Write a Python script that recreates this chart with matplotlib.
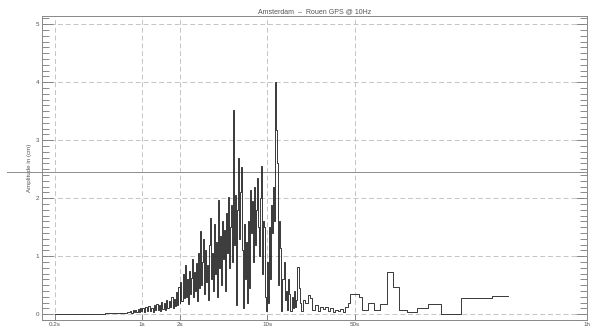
#!/usr/bin/env python3
import matplotlib
matplotlib.use("Agg")
import matplotlib.pyplot as plt
from matplotlib.ticker import FixedLocator, MultipleLocator, NullLocator

# Amplitude spectrum of the GPS track, period (s) vs amplitude (cm)
periods = [
    0.20, 0.30, 0.40, 0.50, 0.60, 0.70, 0.75, 0.80, 0.82, 0.84,
    0.86, 0.88, 0.90, 0.92, 0.94, 0.96, 0.98,
    1.00, 1.03, 1.06, 1.09, 1.12, 1.15, 1.18, 1.21, 1.24, 1.27,
    1.30, 1.33, 1.36, 1.39, 1.42, 1.45, 1.48, 1.51, 1.55, 1.59,
    1.63, 1.67, 1.71, 1.75, 1.79, 1.83, 1.87, 1.91, 1.95, 1.99,
    2.02, 2.06, 2.10, 2.14, 2.18, 2.21, 2.25, 2.29, 2.33, 2.37,
    2.41, 2.46, 2.51, 2.55, 2.60, 2.65, 2.70, 2.75, 2.80, 2.86,
    2.91, 2.96, 3.02, 3.07, 3.13, 3.19, 3.25, 3.31, 3.37, 3.43,
    3.50, 3.56, 3.63, 3.69, 3.76, 3.83, 3.90, 3.98, 4.06, 4.13,
    4.21, 4.29, 4.37, 4.45, 4.53, 4.61, 4.70, 4.79, 4.88, 4.97,
    5.06, 5.16, 5.25, 5.35, 5.45, 5.55, 5.65, 5.75, 5.86, 5.97,
    6.08, 6.19, 6.30, 6.42, 6.54, 6.66, 6.78, 6.90, 7.03, 7.16,
    7.31, 7.45, 7.59, 7.73, 7.88, 8.03, 8.17, 8.32, 8.47, 8.63,
    8.79, 8.95, 9.11, 9.28, 9.46, 9.63, 9.81, 10.0, 10.2, 10.4,
    10.6, 10.8, 11.0, 11.2, 11.4, 11.6, 11.7, 11.8, 11.9, 12.1,
    12.4, 12.7, 12.9, 13.2, 13.5, 13.8, 14.1, 14.4, 14.7, 15.0,
    15.3, 15.7, 16.0, 16.4, 16.7, 17.0, 17.4, 17.8, 18.2,
    18.6, 19.3, 20.1, 21.0, 22.0, 23.0, 24.2, 25.3, 26.5, 27.8,
    29.0, 30.4, 31.9, 33.5, 35.0, 36.7, 38.4, 40.2, 42.1, 44.0,
    46.1, 50.0, 54.0, 57.5, 64.1, 72.0, 80.2, 91.2, 101.9, 113.7,
    131.8, 158.5, 194.0, 246.6, 356.5, 631.0, 847.0,
]
amplitude = [
    0.01, 0.01, 0.01, 0.015, 0.02, 0.025, 0.04, 0.05, 0.02, 0.07,
    0.03, 0.08, 0.03, 0.09, 0.04, 0.10, 0.05,
    0.10, 0.04, 0.12, 0.05, 0.14, 0.06, 0.11, 0.04, 0.16, 0.07,
    0.18, 0.08, 0.15, 0.06, 0.21, 0.09, 0.19, 0.08, 0.25, 0.10,
    0.22, 0.12, 0.30, 0.11, 0.27, 0.14, 0.38, 0.16, 0.47, 0.20,
    0.55, 0.22, 0.70, 0.28, 0.50, 0.84, 0.30, 0.60, 0.18, 0.75,
    0.35, 0.62, 0.95, 0.30, 0.72, 0.40, 0.88, 0.22, 1.05, 0.45,
    1.43, 0.50, 0.90, 1.30, 0.35, 1.10, 0.55, 0.85, 0.25, 1.20,
    1.66, 0.60, 1.05, 0.40, 1.55, 0.70, 1.25, 0.30, 1.97, 0.80,
    1.35, 0.50, 1.60, 0.95, 1.45, 0.40, 1.75, 1.05, 2.02, 0.80,
    1.50, 1.88, 0.90, 3.52, 1.20, 2.05, 0.15, 1.80, 2.69, 1.30,
    2.10, 2.53, 1.10, 0.10, 1.55, 0.60, 1.25, 0.20, 1.60, 0.45,
    2.14, 1.40, 1.95, 0.90, 2.20, 1.20, 1.80, 2.34, 1.50, 1.00,
    2.00, 2.55, 0.70, 1.60, 1.50, 0.30, 0.05, 0.90, 0.20, 1.50,
    0.60, 1.88, 1.40, 2.20, 1.60, 4.00, 3.55, 3.17, 2.60, 0.50,
    1.60, 1.14, 0.05, 0.60, 0.90, 0.25, 0.40, 0.08, 0.60, 0.35,
    0.05, 0.30, 0.10, 0.40, 0.12, 0.25, 0.81, 0.45, 0.20,
    0.05, 0.25, 0.19, 0.33, 0.28, 0.07, 0.15, 0.05, 0.12, 0.09,
    0.13, 0.06, 0.10, 0.04, 0.08, 0.06, 0.09, 0.03, 0.12, 0.19,
    0.34, 0.35, 0.30, 0.08, 0.19, 0.08, 0.17, 0.72, 0.47, 0.07,
    0.03, 0.10, 0.17, 0.00, 0.28, 0.31, 0.31,
]

tick_periods = [0.2, 1, 2, 10, 50, 3600]
tick_labels = ["0.2s", "1s", "2s", "10s", "50s", "1h"]
reference_level = 2.45

plt.rcParams["font.family"] = ["Liberation Sans", "DejaVu Sans"]
text_color = "#555555"

fig = plt.figure(figsize=(5.97, 3.27), dpi=100)
ax = fig.add_axes([0.0704, 0.0214, 0.9126, 0.9296])

ax.step(periods, amplitude, where="post", color="#2b2b2b", lw=0.65, zorder=3)

ax.set_xscale("log")
ax.set_xlim(0.158, 3600)
ax.set_ylim(-0.1, 5.14)

ax.xaxis.set_major_locator(FixedLocator(tick_periods))
ax.xaxis.set_minor_locator(NullLocator())
ax.set_xticklabels(tick_labels)
ax.yaxis.set_major_locator(MultipleLocator(1))
ax.yaxis.set_minor_locator(MultipleLocator(0.1))

ax.tick_params(axis="both", which="both", direction="in", colors="#777777",
               labelcolor=text_color, labelsize=4.5, width=0.6)
ax.tick_params(axis="y", which="major", length=8, pad=2, right=True)
ax.tick_params(axis="y", which="minor", length=5, right=True)
ax.tick_params(axis="x", which="major", length=4, pad=1.5)

for yv in range(0, 6):
    ax.axhline(yv, color="#c4c4c4", lw=0.7, ls=(0, (5, 3)), zorder=1)
for xv in tick_periods:
    ax.axvline(xv, color="#c4c4c4", lw=0.7, ls=(0, (5, 3)), zorder=1)

# solid reference level, carried out past the left spine
ax.axhline(reference_level, xmin=-0.064, xmax=1.0, color="#8c8c8c", lw=0.7,
           clip_on=False, zorder=2)

for side in ["left", "right", "top", "bottom"]:
    ax.spines[side].set_color("#888888")
    ax.spines[side].set_linewidth(0.7)

ax.set_title("Amsterdam  \u2013  Rouen GPS @ 10Hz", fontsize=5, color=text_color,
             pad=2)
ax.set_ylabel("Amplitude in (cm)", fontsize=4.5, color=text_color, labelpad=3)

fig.savefig("out.png", dpi=100, facecolor="white")
